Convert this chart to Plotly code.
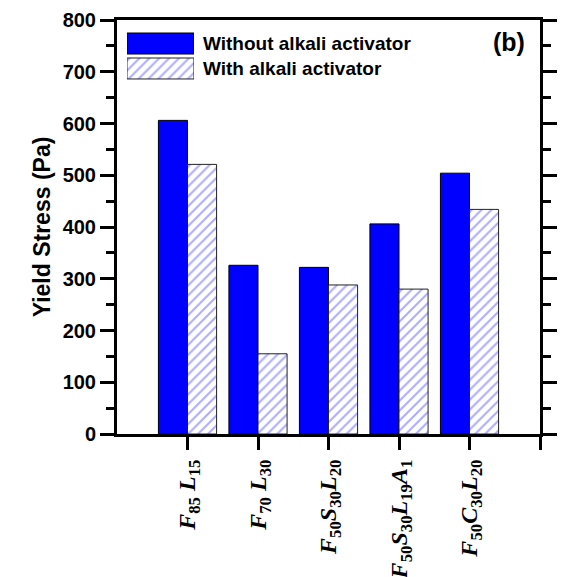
import plotly.graph_objects as go

# Mix designs and measured yield stress (Pa)
mixes = [
    "<b><i>F</i><sub>85</sub> <i>L</i><sub>15</sub></b>",
    "<b><i>F</i><sub>70</sub> <i>L</i><sub>30</sub></b>",
    "<b><i>F</i><sub>50</sub><i>S</i><sub>30</sub><i>L</i><sub>20</sub></b>",
    "<b><i>F</i><sub>50</sub><i>S</i><sub>30</sub><i>L</i><sub>19</sub><i>A</i><sub>1</sub></b>",
    "<b><i>F</i><sub>50</sub><i>C</i><sub>30</sub><i>L</i><sub>20</sub></b>",
]
positions = [1, 2, 3, 4, 5]
without_activator = [606, 326, 322, 406, 504]
with_activator = [521, 155, 288, 280, 434]
series_names = ["Without alkali activator", "With alkali activator"]
y_ticks = [0, 100, 200, 300, 400, 500, 600, 700, 800]

BLUE = "#0000ff"
SANS = "Liberation Sans, Arial, sans-serif"
hatch = dict(shape="/", size=7, solidity=0.3, fgcolor="#5c5cff", bgcolor="white")

fig = go.Figure()
fig.add_trace(go.Bar(
    x=positions, y=without_activator, name=series_names[0],
    marker=dict(color=BLUE, line=dict(color="black", width=1)),
    showlegend=False,
))
fig.add_trace(go.Bar(
    x=positions, y=with_activator, name=series_names[1],
    marker=dict(color="white", pattern=hatch, line=dict(color="#222222", width=1)),
    showlegend=False,
))

# Legend keys drawn as bars on a small hidden axis pair
fig.add_trace(go.Bar(
    x=[1], y=[1], orientation="h", width=0.84, xaxis="x2", yaxis="y2",
    marker=dict(color=BLUE, line=dict(color="black", width=1)),
    showlegend=False, hoverinfo="skip",
))
fig.add_trace(go.Bar(
    x=[1], y=[0], orientation="h", width=0.84, xaxis="x2", yaxis="y2",
    marker=dict(color="white", pattern=hatch, line=dict(color="#222222", width=1)),
    showlegend=False, hoverinfo="skip",
))

fig.update_layout(
    width=564, height=577,
    margin=dict(l=117, r=24, t=20, b=143),
    paper_bgcolor="white", plot_bgcolor="white",
    barmode="group", bargap=0.175, bargroupgap=0,
    xaxis=dict(
        range=[0, 6], tickmode="array", tickvals=positions + [6],
        ticktext=mixes + [""], tickangle=-90, automargin=False,
        tickfont=dict(family="Liberation Serif, Times New Roman, serif", size=24, color="black"),
        ticks="outside", ticklen=13, tickwidth=3, tickcolor="black",
        showline=True, linewidth=3, linecolor="black", mirror=True,
        showgrid=False, zeroline=False,
    ),
    yaxis=dict(
        range=[0, 800], tickmode="array", tickvals=y_ticks, automargin=False,
        tickfont=dict(family=SANS, size=20, color="black", weight="bold"),
        ticks="outside", ticklen=14, tickwidth=3, tickcolor="black",
        minor=dict(dtick=50, ticks="outside", ticklen=8, tickwidth=3, tickcolor="black", showgrid=False),
        showline=True, linewidth=3, linecolor="black", mirror="ticks",
        showgrid=False, zeroline=False,
        title=dict(text="<b>Yield Stress (Pa)</b>", standoff=6,
                   font=dict(family=SANS, size=23, color="black")),
    ),
    xaxis2=dict(domain=[0.0236, 0.182], range=[0, 1], anchor="y2", visible=False, fixedrange=True),
    yaxis2=dict(domain=[0.8527, 0.9734], range=[-0.5, 1.5], anchor="x2", visible=False, fixedrange=True),
    annotations=[
        dict(text="<b>" + series_names[0] + "</b>", xref="paper", yref="paper",
             x=0.1986, y=0.943, xanchor="left", yanchor="middle", showarrow=False,
             font=dict(family=SANS, size=19, color="black")),
        dict(text="<b>" + series_names[1] + "</b>", xref="paper", yref="paper",
             x=0.1986, y=0.883, xanchor="left", yanchor="middle", showarrow=False,
             font=dict(family=SANS, size=19, color="black")),
        dict(text="<b>(b)</b>", xref="paper", yref="paper",
             x=0.969, y=0.947, xanchor="right", yanchor="middle", showarrow=False,
             font=dict(family=SANS, size=25, color="black")),
    ],
)

fig.write_html("out.html")
